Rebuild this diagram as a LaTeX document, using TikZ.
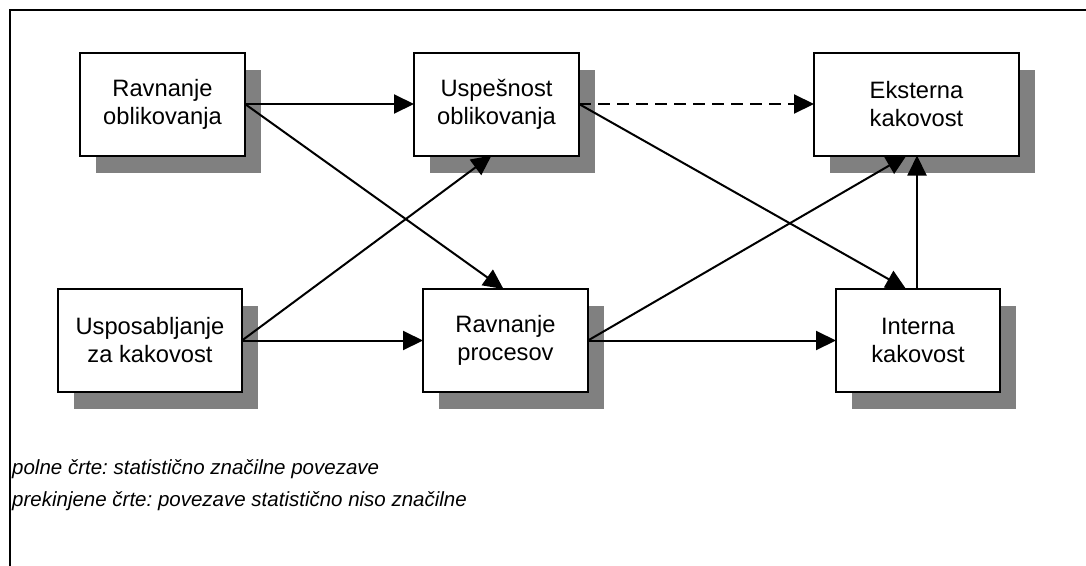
\documentclass[tikz,border=0pt]{standalone}
\usepackage{fontspec}
\setmainfont{Liberation Sans}
\usetikzlibrary{arrows.meta,shadows}
\definecolor{shadowgray}{HTML}{808080}
\frenchspacing
\begin{document}
\begin{tikzpicture}[x=1pt,y=-1pt,
  box/.style={draw, line width=2pt, fill=white, inner sep=0pt, outer sep=0pt,
    minimum height=103pt, align=center,
    font=\fontsize{23.7}{28}\selectfont,
    drop shadow={shadow xshift=16pt, shadow yshift=-17pt, fill=shadowgray, opacity=1}},
  link/.style={line width=2pt, -{Triangle[length=20pt,width=19pt]}},
  weaklink/.style={link, dash pattern=on 12pt off 7pt},
  legend/.style={anchor=base west, inner sep=0pt, font=\itshape\fontsize{20.5}{24}\selectfont}]
\useasboundingbox (0,0) rectangle (1086,565);

% frame around the model
\draw[line width=2.4pt] (10,575) -- (10,10) -- (1096,10);

% constructs
\node[box, minimum width=165pt] (ro) at (162.5,104) {Ravnanje\\oblikovanja};
\node[box, minimum width=165pt] (uo) at (496.5,104) {Uspešnost\\oblikovanja};
\node[box, minimum width=205pt] (ek) at (916.5,104) {Eksterna\\kakovost};
\node[box, minimum width=184pt] (uk) at (150,340.5) {Usposabljanje\\za kakovost};
\node[box, minimum width=165pt] (rp) at (505.5,340.5) {Ravnanje\\procesov};
\node[box, minimum width=164pt] (ik) at (918,340.5) {Interna\\kakovost};

% significant paths
\draw[link] (ro.east) -- (uo.west);
\draw[link] (ro.east) -- ([xshift=-2pt]rp.north);
\draw[link] (uo.east) -- ([xshift=-12pt]ik.north);
\draw[link] (uk.east) -- ([xshift=-5pt]uo.south);
\draw[link] (uk.east) -- (rp.west);
\draw[link] (rp.east) -- ([xshift=-10pt]ek.south);
\draw[link] (rp.east) -- (ik.west);
\draw[link] ([xshift=-1pt]ik.north) -- ([xshift=0.5pt]ek.south);

% non-significant path
\draw[weaklink] (uo.east) -- (ek.west);

% legend
\node[legend] (leg1) at (12,474) {polne črte: statistično značilne povezave};
\node[legend] (leg2) at (12,506) {prekinjene črte: povezave statistično niso značilne};
\end{tikzpicture}
\end{document}
